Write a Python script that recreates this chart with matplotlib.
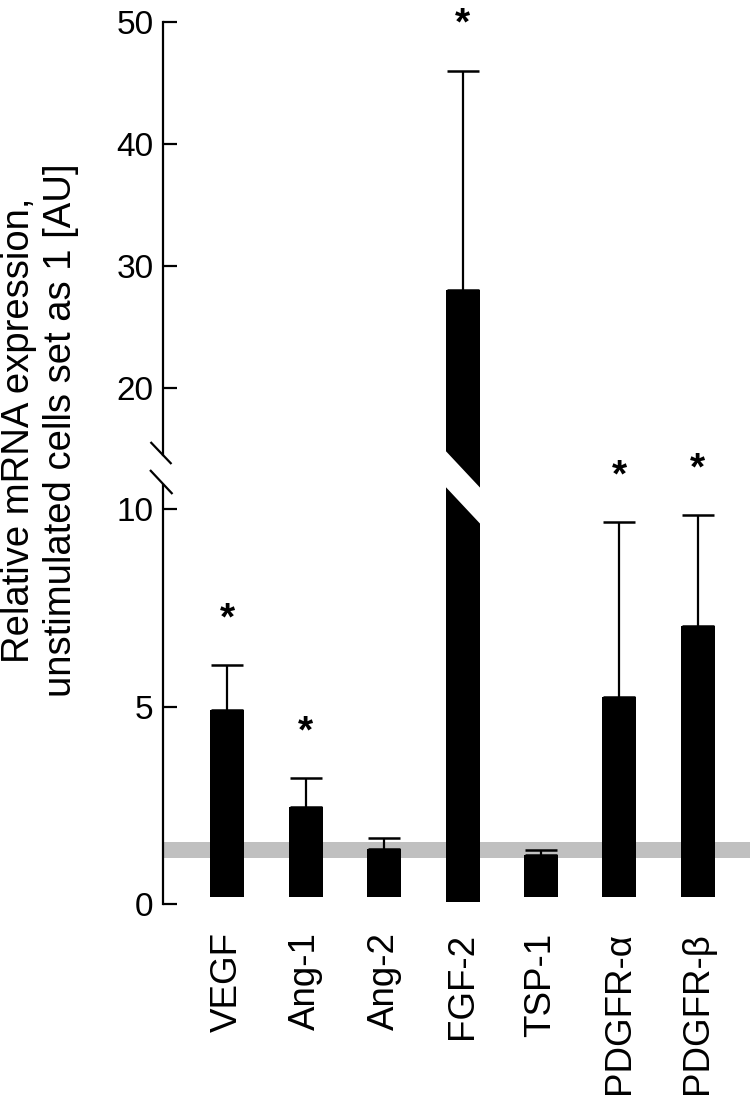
import matplotlib
matplotlib.use("Agg")
import matplotlib.pyplot as plt
import matplotlib.transforms as mtransforms
from matplotlib.patches import Polygon, Rectangle
from matplotlib.lines import Line2D
import numpy as np

plt.rcParams['font.family'] = ['Liberation Sans', 'DejaVu Sans']

# ---------------- data ----------------
categories = ["VEGF", "Ang-1", "Ang-2", "FGF-2", "TSP-1", "PDGFR-\u03b1", "PDGFR-\u03b2"]
means = [4.91, 2.45, 1.40, 28.0, 1.23, 5.23, 7.04]
err_upper = [1.13, 0.74, 0.27, 18.0, 0.15, 4.44, 2.81]
significant = [True, True, False, True, False, True, True]
bar_base = [0.18, 0.18, 0.18, 0.06, 0.18, 0.18, 0.18]
reference_band = (1.17, 1.57)          # unstimulated level (grey band)
lower_ticks = [0, 5, 10]
upper_ticks = [20, 30, 40, 50]
lower_ylim = (0, 10.61)
upper_ylim = (14.51, 50)
ylabel = "Relative mRNA expression,\nunstimulated cells set as 1 [AU]"

# ---------------- layout ----------------
W, H = 750, 1096
fig = plt.figure(figsize=(W / 100, H / 100), dpi=100)

left = 162.5 / W
width = 1.0 - left
lo_bot, lo_top = 1 - 904 / H, 1 - 485 / H
up_bot, up_top = 1 - 455 / H, 1 - 21.7 / H

ax_lo = fig.add_axes([left, lo_bot, width, lo_top - lo_bot])
ax_up = fig.add_axes([left, up_bot, width, up_top - up_bot])

x = np.arange(len(categories))
bw = 0.434
xlim = (-0.828, 6.666)

lw_axis = 1.6
for ax in (ax_lo, ax_up):
    ax.set_xlim(*xlim)
    for s in ("top", "right", "bottom"):
        ax.spines[s].set_visible(False)
    ax.spines["left"].set_linewidth(lw_axis)
    ax.tick_params(axis="y", direction="in", length=10, width=lw_axis,
                   labelsize=24, pad=6.5)
    ax.patch.set_visible(False)

ax_lo.set_ylim(*lower_ylim)
ax_up.set_ylim(*upper_ylim)
ax_lo.set_yticks(lower_ticks)
ax_up.set_yticks(upper_ticks)
ax_up.set_xticks([])

ax_lo.set_xticks(x)
ax_lo.set_xticklabels(categories, rotation=90, fontsize=26.5, va="top", ha="center")
ax_lo.tick_params(axis="x", length=0, pad=20.5)

# grey reference band
ax_lo.axhspan(*reference_band, color="#c0c0c0", lw=0, zorder=0)

means_a = np.array(means)
base_a = np.array(bar_base)
err_a = np.array(err_upper)

# bars
for ax in (ax_lo, ax_up):
    ax.bar(x, means_a - base_a, bottom=base_a, width=bw, color="black",
           edgecolor="none", zorder=2)

# error bars (upper only)
small = means_a < lower_ylim[1]
ax_lo.errorbar(x[small], means_a[small], yerr=[np.zeros(small.sum()), err_a[small]],
               fmt="none", ecolor="black", elinewidth=1.6, capsize=11.5,
               capthick=1.8, zorder=3)
ax_up.errorbar(x[~small], means_a[~small], yerr=[np.zeros((~small).sum()), err_a[~small]],
               fmt="none", ecolor="black", elinewidth=1.6, capsize=11.5,
               capthick=1.8, zorder=3)

# significance asterisks
star_off = 33  # points above cap
for i in range(len(categories)):
    if not significant[i]:
        continue
    top = means[i] + err_upper[i]
    ax = ax_lo if small[i] else ax_up
    ax.annotate("*", xy=(x[i], top), xytext=(0, star_off), textcoords="offset points",
                ha="center", va="center", fontsize=28, fontweight="bold",
                annotation_clip=False)

# broken FGF-2 bar: fill gap between axes, then white diagonal cut
blend = mtransforms.blended_transform_factory(ax_lo.transData, fig.transFigure)
for i in np.where(~small)[0]:
    xl, xr = x[i] - bw / 2, x[i] + bw / 2
    fig.add_artist(Rectangle((xl, lo_top), bw, up_bot - lo_top, transform=blend,
                             color="black", lw=0, zorder=5))
    e = 0.01
    poly = [(xl - e, up_bot + 5 / H), (xr + e, lo_top - 3 / H),
            (xr + e, lo_top - 39 / H), (xl - e, lo_top - 1 / H)]
    fig.add_artist(Polygon(poly, closed=True, transform=blend, facecolor="white",
                           edgecolor="none", zorder=6))

# axis break marks
for (cy, a, b) in ((up_bot, (-12, 13), (9, -9)), (lo_top, (-12.5, 15), (10, -9))):
    fig.add_artist(Line2D([left + a[0] / W, left + b[0] / W],
                          [cy + a[1] / H, cy + b[1] / H],
                          transform=fig.transFigure, color="black", lw=lw_axis,
                          solid_capstyle="butt", zorder=7))

# y label
fig.text(40 / W, 1 - 430 / H, ylabel, rotation=90, ha="center", va="center",
         fontsize=27.5, multialignment="center")

fig.savefig("out.png", dpi=100)
